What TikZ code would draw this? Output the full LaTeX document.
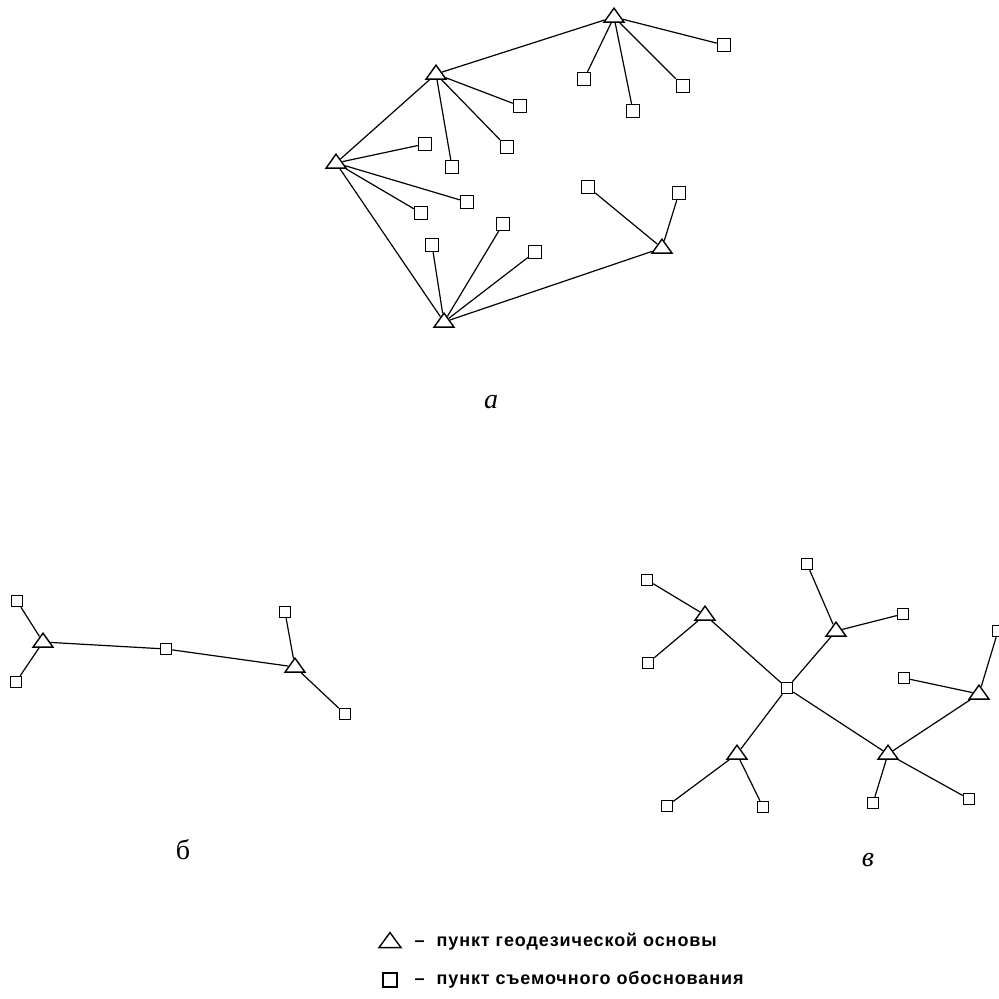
\documentclass[tikz,border=0pt]{standalone}
\usepackage{fontspec}
\setmainfont{Liberation Serif}
\newfontfamily\legfont[LetterSpace=5]{Liberation Sans}
\usetikzlibrary{shapes.geometric,positioning}

\begin{document}
\begin{tikzpicture}[x=1pt,y=-1pt,line width=1.2pt,
  tri/.style={isosceles triangle,isosceles triangle stretches,shape border rotate=90,
    draw,inner sep=0pt,minimum width=20pt,minimum height=14pt,line width=1.4pt},
  box/.style={rectangle,draw,inner sep=0pt,minimum size=13pt,line width=1.4pt},
  small box/.style={box,minimum size=11pt},
  part name/.style={font=\fontsize{28}{30}\selectfont},
  legend/.style={font=\legfont\bfseries\fontsize{18}{20}\selectfont,anchor=west,inner sep=0pt}]
  \useasboundingbox (0,0) rectangle (999,999);
  \clip (0,0) rectangle (999,999);

  % a
  \node[tri] (A1) at (614,17)  {};
  \node[tri] (A2) at (436,74)  {};
  \node[tri] (A3) at (336,163) {};
  \node[tri] (A4) at (444,322) {};
  \node[tri] (A5) at (662,248) {};
  \node[box] (a1)  at (724,45)  {};
  \node[box] (a2)  at (584,79)  {};
  \node[box] (a3)  at (683,86)  {};
  \node[box] (a4)  at (633,111) {};
  \node[box] (a5)  at (520,106) {};
  \node[box] (a6)  at (507,147) {};
  \node[box] (a7)  at (452,167) {};
  \node[box] (a8)  at (425,144) {};
  \node[box] (a9)  at (467,202) {};
  \node[box] (a10) at (421,213) {};
  \node[box] (a11) at (432,245) {};
  \node[box] (a12) at (503,224) {};
  \node[box] (a13) at (535,252) {};
  \node[box] (a14) at (588,187) {};
  \node[box] (a15) at (679,193) {};
  \path
  (A1) edge (A2) edge (a1) edge (a2) edge (a3) edge (a4)
  (A2) edge (A3) edge (a5) edge (a6) edge (a7)
  (A3) edge (A4) edge (a8) edge (a9) edge (a10)
  (A4) edge (A5) edge (a11) edge (a12) edge (a13)
  (A5) edge (a14) edge (a15);
  \node[part name,font=\fontsize{28}{30}\selectfont\itshape] (na) at (491,402) {а};

  % b
  \node[tri] (B1) at (43,642)  {};
  \node[tri] (B2) at (295,667) {};
  \node[small box] (b1) at (17,601)  {};
  \node[small box] (b2) at (16,682)  {};
  \node[small box] (b3) at (166,649) {};
  \node[small box] (b4) at (285,612) {};
  \node[small box] (b5) at (345,714) {};
  \path
  (B1) edge (b1) edge (b2) edge (b3)
  (b3) edge (B2)
  (B2) edge (b4) edge (b5);
  \node[part name] (nb) at (183,850) {б};

  % v
  \node[tri] (V1) at (705,615) {};
  \node[tri] (V2) at (836,631) {};
  \node[tri] (V3) at (737,754) {};
  \node[tri] (V4) at (888,754) {};
  \node[tri] (V5) at (979,694) {};
  \node[small box] (v0)  at (787,688) {};
  \node[small box] (v1)  at (647,580) {};
  \node[small box] (v2)  at (648,663) {};
  \node[small box] (v3)  at (807,564) {};
  \node[small box] (v4)  at (903,614) {};
  \node[small box] (v5)  at (998,631) {};
  \node[small box] (v6)  at (904,678) {};
  \node[small box] (v7)  at (667,806) {};
  \node[small box] (v8)  at (763,807) {};
  \node[small box] (v9)  at (873,803) {};
  \node[small box] (v10) at (969,799) {};
  \path
  (V1) edge (v1) edge (v2) edge (v0)
  (V2) edge (v3) edge (v4) edge (v0)
  (v0) edge (V3) edge (V4)
  (V3) edge (v7) edge (v8)
  (V4) edge (v9) edge (v10) edge (V5)
  (V5) edge (v6) edge (v5);
  \node[part name,font=\fontsize{28}{30}\selectfont\itshape] (nv) at (868,860) {в};

  % legend
  \node[tri,minimum width=22pt,minimum height=15pt] (lt) at (390,942) {};
  \node[box,minimum size=14pt] (lb) at (390,980) {};
  \node[legend] (l1) at (414,942) {–\hspace{12pt}пункт геодезической основы};
  \node[legend] (l2) at (414,980) {–\hspace{12pt}пункт съемочного обоснования};
\end{tikzpicture}
\end{document}
